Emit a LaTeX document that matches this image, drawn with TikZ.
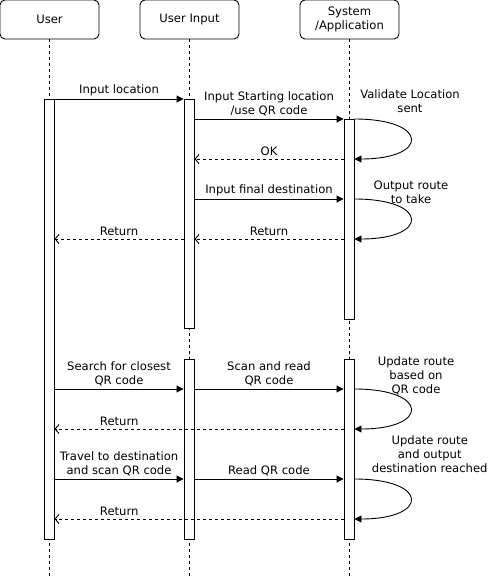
\documentclass[tikz,border=0pt]{standalone}
\usepackage{fontspec}
\setmainfont{DejaVu Sans}
\usetikzlibrary{arrows.meta}

\begin{document}
\begin{tikzpicture}[x=1pt,y=-1pt,line width=0.9pt,
	txt/.style={font=\fontsize{11.6}{14}\selectfont,align=center},
	actor/.style={txt,draw,rounded corners=5pt,minimum width=99pt,minimum height=39pt},
	bar/.style={draw,fill=white,minimum width=10pt,inner sep=0pt},
	life/.style={dash pattern=on 3pt off 3pt},
	call/.style={-{Triangle[length=7pt,width=7pt]}},
	ret/.style={dash pattern=on 3pt off 3pt,-{Straight Barb[length=4pt,width=9pt]}},
	msg/.style={txt,inner sep=2.5pt}]

	\useasboundingbox (0,0) rectangle (489,580);
	\coordinate (bottom) at (0,579);

	% actors and lifelines
	\node[actor] (user) at (49.5,19.5) {User};
	\node[actor] (input) at (189.5,19.5) {User Input};
	\node[actor] (system) at (349.5,19.5) {System\\/Application};
	\foreach \a in {user,input,system}
		\draw[life] (\a.south) -- (\a.south |- bottom);

	% activation bars
	\node[bar,minimum height=440pt] (ubar) at (49,319) {};
	\node[bar,minimum height=229pt] (ibarA) at (189,213.5) {};
	\node[bar,minimum height=200pt] (sbarA) at (349,219) {};
	\node[bar,minimum height=180pt] (ibarB) at (189,449) {};
	\node[bar,minimum height=180pt] (sbarB) at (349,449) {};

	% message levels
	\coordinate (m1) at (0,99);
	\coordinate (m2) at (0,119);
	\coordinate (m3) at (0,159);
	\coordinate (m4) at (0,199);
	\coordinate (m5) at (0,239);
	\coordinate (m6) at (0,389);
	\coordinate (m7) at (0,429);
	\coordinate (m8) at (0,479);
	\coordinate (m9) at (0,519);

	% first part
	\draw[call] (ubar.east |- m1) -- (ibarA.west |- m1) node[msg,midway,above] {Input location};
	\draw[call] (ibarA.east |- m2) -- (sbarA.west |- m2) node[msg,midway,above] {Input Starting location\\/use QR code};
	\draw[call] (sbarA.east |- m2) .. controls +(75,0) and +(75,0) .. (sbarA.east |- m3);
	\node[txt] (validate) at (410,101) {Validate Location\\sent};
	\draw[ret] (sbarA.west |- m3) -- (ibarA.east |- m3) node[msg,midway,above] {OK};
	\draw[call] (ibarA.east |- m4) -- (sbarA.west |- m4) node[msg,midway,above] {Input final destination};
	\draw[call] (sbarA.east |- m4) .. controls +(75,0) and +(75,0) .. (sbarA.east |- m5);
	\node[txt] (output) at (411,192) {Output route\\to take};
	\draw[ret] (sbarA.west |- m5) -- (ibarA.east |- m5) node[msg,midway,above] {Return};
	\draw[ret] (ibarA.west |- m5) -- (ubar.east |- m5) node[msg,midway,above] {Return};

	% second part
	\draw[call] (ubar.east |- m6) -- (ibarB.west |- m6) node[msg,midway,above] {Search for closest\\QR code};
	\draw[call] (ibarB.east |- m6) -- (sbarB.west |- m6) node[msg,midway,above] {Scan and read\\QR code};
	\draw[call] (sbarB.east |- m6) .. controls +(75,0) and +(75,0) .. (sbarB.east |- m7);
	\node[txt] (update) at (416,376) {Update route\\based on\\QR code};
	\draw[ret] (sbarB.west |- m7) -- (ubar.east |- m7) node[msg,pos=0.776,above] {Return};
	\draw[call] (ubar.east |- m8) -- (ibarB.west |- m8) node[msg,midway,above] {Travel to destination\\and scan QR code};
	\draw[call] (ibarB.east |- m8) -- (sbarB.west |- m8) node[msg,midway,above] {Read QR code};
	\draw[call] (sbarB.east |- m8) .. controls +(75,0) and +(75,0) .. (sbarB.east |- m9);
	\node[txt,anchor=east,inner sep=0pt] (reached) at (488,454) {Update route\\and output\\destination reached};
	\draw[ret] (sbarB.west |- m9) -- (ubar.east |- m9) node[msg,pos=0.776,above] {Return};

\end{tikzpicture}
\end{document}
